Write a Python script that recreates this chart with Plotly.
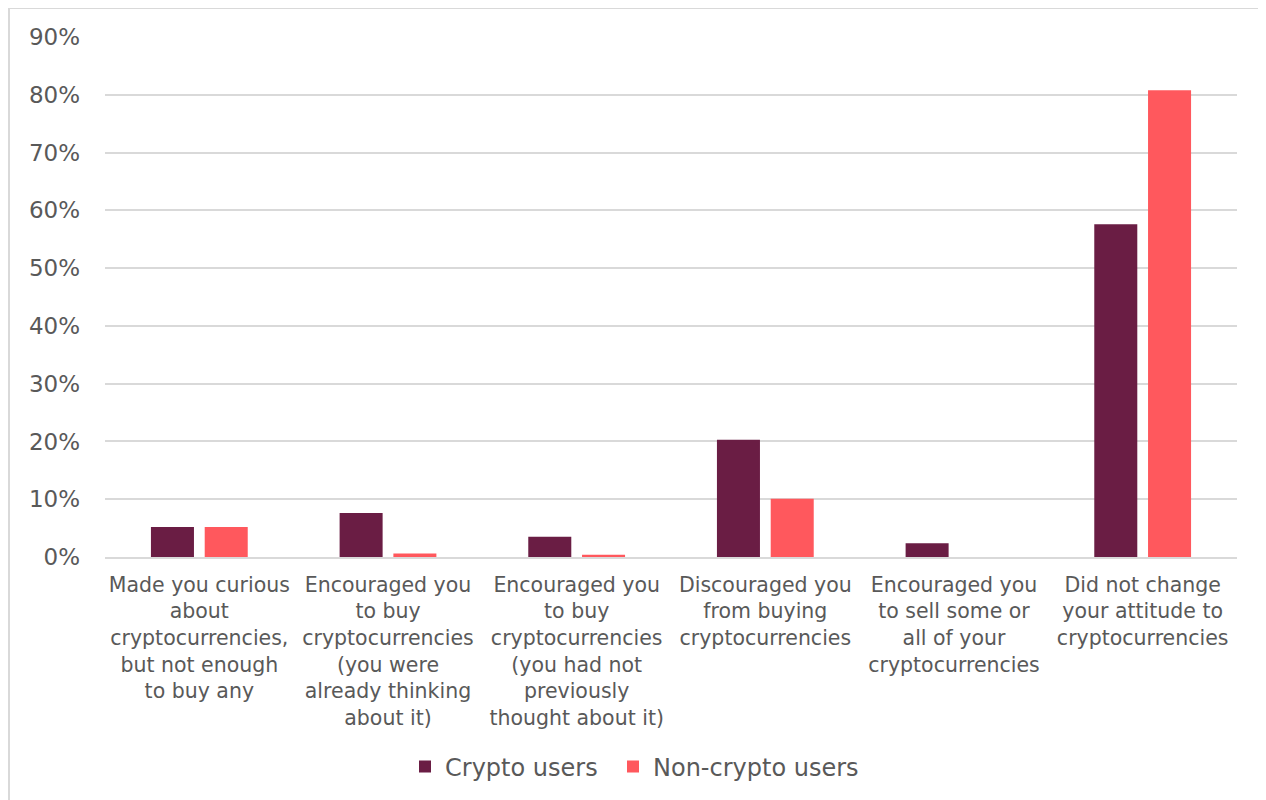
import plotly.graph_objects as go

categories = [
    "Made you curious<br>about<br>cryptocurrencies,<br>but not enough<br>to buy any",
    "Encouraged you<br>to buy<br>cryptocurrencies<br>(you were<br>already thinking<br>about it)",
    "Encouraged you<br>to buy<br>cryptocurrencies<br>(you had not<br>previously<br>thought about it)",
    "Discouraged you<br>from buying<br>cryptocurrencies",
    "Encouraged you<br>to sell some or<br>all of your<br>cryptocurrencies",
    "Did not change<br>your attitude to<br>cryptocurrencies",
]
crypto_users = [0.052, 0.076, 0.035, 0.203, 0.024, 0.576]
non_crypto_users = [0.052, 0.006, 0.004, 0.101, 0.0, 0.808]
y_ticks = [0, 0.1, 0.2, 0.3, 0.4, 0.5, 0.6, 0.7, 0.8, 0.9]

# page body margin offsets the figure by 8px
OFF = 8
W, H = 1266, 800
L, T = 105 - OFF, 37 - OFF
R = W - (1237 - OFF)
B = H - (557 - OFF)
pw, ph = W - L - R, H - T - B


def px_x(x):
    return (x - OFF - L) / pw


def px_y(y):
    return (T + ph - (y - OFF)) / ph


fig = go.Figure()
fig.add_trace(go.Bar(x=categories, y=crypto_users, name="Crypto users",
                     marker=dict(color="#6A1D44", line=dict(width=0)),
                     legend="legend"))
fig.add_trace(go.Bar(x=categories, y=non_crypto_users, name="Non-crypto users",
                     marker=dict(color="#FF585D", line=dict(width=0)),
                     legend="legend2"))

font_family = "DejaVu Sans, Verdana, sans-serif"
legend_common = dict(orientation="h", xanchor="left", y=px_y(767),
                     yanchor="middle", font=dict(size=24, color="#595959"),
                     itemwidth=30, bgcolor="rgba(0,0,0,0)")
fig.update_layout(
    width=W, height=H,
    margin=dict(l=L, r=R, t=T, b=B),
    paper_bgcolor="white", plot_bgcolor="white",
    barmode="group", bargap=0.43, bargroupgap=0.2,
    font=dict(family=font_family, size=20.5, color="#595959"),
    showlegend=True,
    legend=dict(x=px_x(405), **legend_common),
    legend2=dict(x=px_x(613), **legend_common),
    xaxis=dict(showgrid=False, showline=True, linecolor="#D9D9D9", linewidth=2,
               tickfont=dict(size=20.5, color="#595959"), ticks="",
               ticklabelstandoff=8),
    yaxis=dict(range=[0, 0.9], tickvals=y_ticks, tickformat=".0%",
               showgrid=True, gridcolor="#D9D9D9", gridwidth=1.5,
               zeroline=False, showline=False, ticks="",
               ticklabelstandoff=24,
               tickfont=dict(size=23, color="#595959")),
)

fig.add_shape(type="rect", xref="paper", yref="paper",
              x0=px_x(9), x1=px_x(1264),
              y0=px_y(830), y1=px_y(8),
              line=dict(color="#D9D9D9", width=2), fillcolor="rgba(0,0,0,0)",
              layer="below")

fig.write_html("out.html")
